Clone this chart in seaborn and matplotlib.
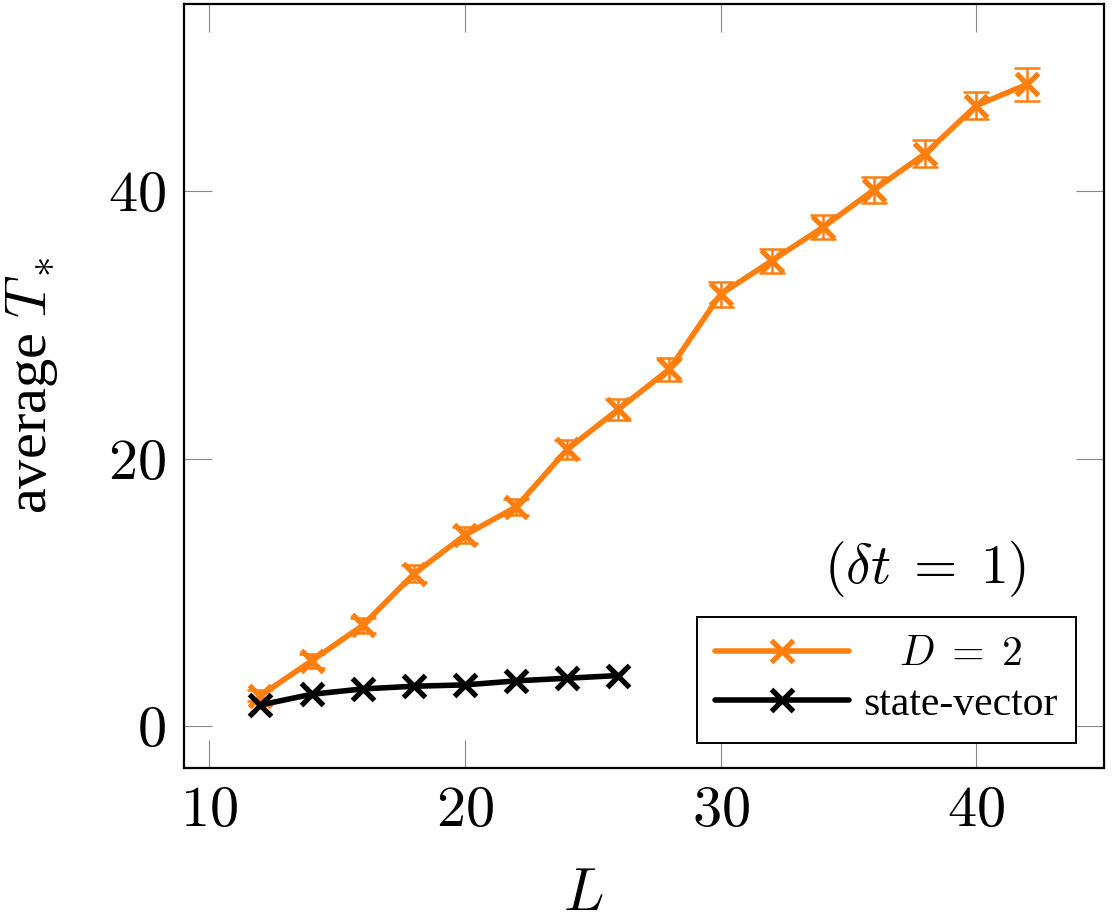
import numpy as np
import pandas as pd
import matplotlib
matplotlib.use("Agg")
import matplotlib.pyplot as plt
import seaborn as sns

# data
L_mps = [12, 14, 16, 18, 20, 22, 24, 26, 28, 30, 32, 34, 36, 38, 40, 42]
T_mps = [2.3, 4.9, 7.55, 11.4, 14.3, 16.4, 20.7, 23.7, 26.7, 32.3, 34.8, 37.3, 40.1, 42.8, 46.4, 48.0]
T_mps_err = [0.4, 0.5, 0.55, 0.63, 0.6, 0.63, 0.71, 0.78, 0.86, 0.95, 0.9, 0.9, 0.95, 1.0, 1.0, 1.25]

L_sv = [12, 14, 16, 18, 20, 22, 24, 26]
T_sv = [1.6, 2.4, 2.8, 3.0, 3.1, 3.4, 3.6, 3.8]

xticks = [10, 20, 30, 40]
yticks = [0, 20, 40]

orange = "#ff7f0e"

sns.set_theme(style="white")
plt.rcParams["font.family"] = ["Liberation Serif", "DejaVu Serif"]
plt.rcParams["mathtext.fontset"] = "cm"
plt.rcParams["text.color"] = "black"
plt.rcParams["axes.labelcolor"] = "black"
plt.rcParams["xtick.labelcolor"] = "black"
plt.rcParams["ytick.labelcolor"] = "black"

fig = plt.figure(figsize=(11.14, 9.24), dpi=100)
ax = fig.add_axes([0.165, 0.169, 0.826, 0.8267])

df_mps = pd.DataFrame({"L": L_mps, "T": T_mps, "err": T_mps_err})
df_sv = pd.DataFrame({"L": L_sv, "T": T_sv})

ax.errorbar(df_mps["L"], df_mps["T"], yerr=df_mps["err"], fmt="none",
            ecolor=orange, elinewidth=1.8, capsize=9.5, capthick=1.8, zorder=2)
sns.lineplot(data=df_mps, x="L", y="T", ax=ax, color=orange, lw=4,
             marker="x", markersize=16, mew=3.8, mec=orange,
             label=r"$\quad D\;=\;2$", zorder=3)
sns.lineplot(data=df_sv, x="L", y="T", ax=ax, color="black", lw=4,
             marker="x", markersize=16, mew=3.8, mec="black",
             label="state-vector", zorder=4)

ax.set_xlim(9, 45)
ax.set_ylim(-3.1, 54)
ax.set_xticks(xticks, labels=[f"${t}$" for t in xticks])
ax.set_yticks(yticks, labels=[f"${t}$" for t in yticks])
ax.tick_params(axis="both", which="both", direction="in", length=20, width=0.8,
               color="#888888", labelsize=42, top=True, right=True,
               bottom=True, left=True, pad=13)

for sp in ax.spines.values():
    sp.set_color("black")
    sp.set_linewidth(1.6)

ax.set_xlabel("$L$", fontsize=43)
ax.set_ylabel("average $T_*$", fontsize=42)
ax.xaxis.set_label_coords(0.434, -0.132)
ax.yaxis.set_label_coords(-0.135, 0.5)

ax.text(0.805, 0.26, r"$(\delta t\;=\;1)$", transform=ax.transAxes,
        fontsize=40, ha="center", va="center")

leg = ax.legend(loc="lower right", bbox_to_anchor=(0.97, 0.033), fontsize=30,
                frameon=True, fancybox=False, edgecolor="black", framealpha=1,
                handlelength=3.2, handletextpad=0.35, borderpad=0.45,
                labelspacing=0.27, borderaxespad=0)
leg.get_frame().set_linewidth(1.4)

fig.savefig("out.png", dpi=100)
